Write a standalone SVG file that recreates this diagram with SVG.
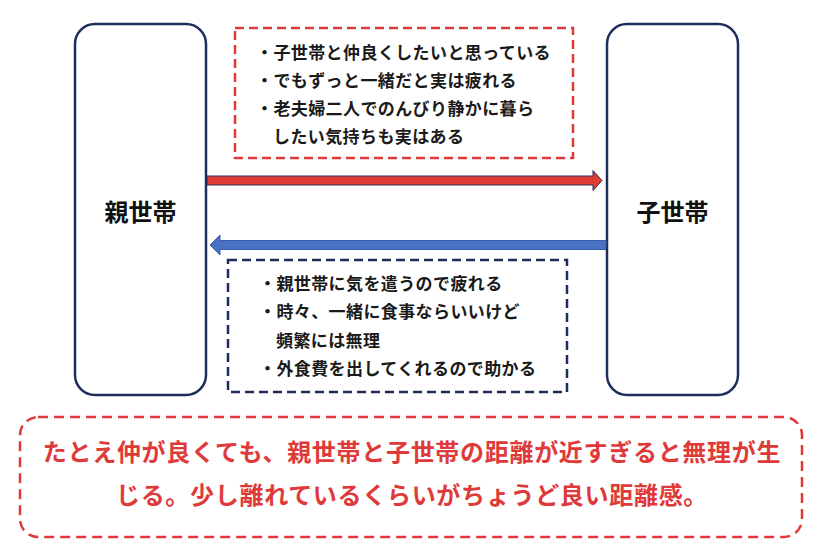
<svg xmlns="http://www.w3.org/2000/svg" width="828" height="558" viewBox="0 0 828 558">
<style>
.node{fill:#ffffff;stroke:#1f2d5c;stroke-width:2.5}
.lbl{font-family:"Noto Sans CJK JP","Noto Sans",sans-serif;font-weight:700;font-size:24px;fill:#111111;text-anchor:middle}
.note{font-family:"Noto Sans CJK JP","Noto Sans",sans-serif;font-weight:700;font-size:17px;letter-spacing:0.4px;fill:#1a1a1a}
.sum{font-family:"Noto Sans CJK JP","Noto Sans",sans-serif;font-weight:700;font-size:24px;fill:#df3a3a;text-anchor:middle;letter-spacing:0.7px}
.redbox{fill:none;stroke:#df3a3a;stroke-width:2.5;stroke-dasharray:9 5}
.bluebox{fill:none;stroke:#1f2d5c;stroke-width:2.5;stroke-dasharray:9 5}
.sumbox{fill:none;stroke:#df3a3a;stroke-width:2.5;stroke-dasharray:10 6}
</style>
<rect width="828" height="558" fill="#ffffff"/>
<g id="parent">
<rect class="node" x="75" y="24" width="131" height="371" rx="20"/>
<text class="lbl" x="140.5" y="221">親世帯</text>
</g>
<g id="child">
<rect class="node" x="607" y="24" width="131" height="371" rx="20"/>
<text class="lbl" x="672.5" y="221">子世帯</text>
</g>
<g id="connectors">
<path d="M207,176 L593,176 L593,170.5 L602,180.5 L593,190.5 L593,185 L207,185 Z" fill="#e03a32" stroke="#2a2f5e" stroke-width="1"/>
<path d="M606,240.5 L220,240.5 L220,235 L210,245 L220,255 L220,249.5 L606,249.5 Z" fill="#4a72c2" stroke="#3b5ea8" stroke-width="1"/>
</g>
<g id="note-parent">
<rect class="redbox" x="235" y="28" width="338" height="130"/>
<text class="note" x="256" y="59">・子世帯と仲良くしたいと思っている</text>
<text class="note" x="256" y="87">・でもずっと一緒だと実は疲れる</text>
<text class="note" x="256" y="115">・老夫婦二人でのんびり静かに暮ら</text>
<text class="note" x="273" y="143">したい気持ちも実はある</text>
</g>
<g id="note-child">
<rect class="bluebox" x="228" y="260" width="339" height="132"/>
<text class="note" x="259" y="290">・親世帯に気を遣うので疲れる</text>
<text class="note" x="259" y="318">・時々、一緒に食事ならいいけど</text>
<text class="note" x="276" y="347">頻繁には無理</text>
<text class="note" x="259" y="375">・外食費を出してくれるので助かる</text>
</g>
<g id="summary">
<rect class="sumbox" x="20" y="417" width="782" height="120" rx="18"/>
<text class="sum" x="412" y="461">たとえ仲が良くても、親世帯と子世帯の距離が近すぎると無理が生</text>
<text class="sum" x="412" y="504">じる。少し離れているくらいがちょうど良い距離感。</text>
</g>
</svg>
